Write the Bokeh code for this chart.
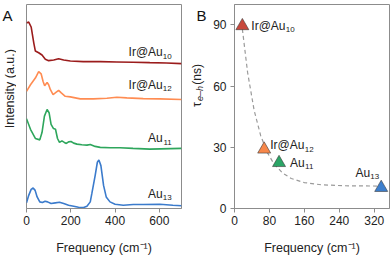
import math
from bokeh.plotting import figure
from bokeh.layouts import row
from bokeh.models import Label, FixedTicker, Range1d
from bokeh.core.properties import value
from bokeh.embed import file_html
from bokeh.resources import INLINE

FONT = "Liberation Sans"
GREY = "#8c8c8c"
TXT = "#222222"

# ---------------- Panel A: spectra ----------------
freq_irau10 = [0, 10, 21, 33, 40, 55, 70, 85, 100, 123, 145, 168, 198, 256, 333, 408, 481, 557, 632, 700]
int_irau10 = [41.3, 42.3, 37.3, 21, 13, 11.3, 9, 4.7, 3.3, 4, 5.3, 4, 3, 2.3, 2.3, 2, 1.7, 1.3, 1, 0.3]

freq_irau12 = [0, 18, 40, 55, 66, 75, 82, 93, 100, 108, 120, 130, 145, 157, 175, 198, 243, 302, 363, 408, 453, 527, 602, 700]
int_irau12 = [8.3, 15, 21.7, 28.3, 26, 18.3, 14, 17.3, 15, 10, 5, 6.7, 9.3, 6.7, 3.3, 2.7, 0.7, 0.7, 1.3, 2.3, 1.7, 1, 0.7, 0]

freq_au11 = [0, 18, 40, 60, 70, 81, 93, 102, 111, 122, 131, 140, 149, 160, 171, 180, 190, 201, 213, 228, 250, 273, 288, 310, 333, 378, 422, 481, 557, 700]
int_au11 = [30.7, 20, 10.7, 9.3, 16.7, 33.3, 40, 36.7, 25, 20.7, 20, 10.7, 6.7, 8.3, 6.7, 5.7, 7.3, 7.7, 6, 5, 4.3, 4, 4.7, 2.7, 1.7, 1.3, 1.3, 0.7, 0, 0.7]

freq_au13 = [0, 10, 21, 30, 39, 48, 60, 72, 84, 95, 111, 130, 149, 168, 190, 213, 235, 258, 273, 288, 295, 310, 320, 327, 336, 348, 360, 377, 400, 437, 482, 527, 602, 661, 700]
int_au13 = [4.7, 12.3, 18.3, 19.7, 17.3, 10.7, 5.7, 5, 6.3, 5.7, 4, 4.7, 5.3, 4, 2.3, 1.3, 0.3, 0, 1.3, 5.7, 14, 32.3, 45.7, 48, 42.3, 22.3, 10.7, 5.7, 3.3, 2.3, 3, 3, 3.3, 2.3, 1.7]

spec_names = ["Ir@Au", "Ir@Au", "Au", "Au"]
spec_subs = ["10", "12", "11", "13"]
spec_offsets = [145, 109, 59, 0]
spec_colors = ["#9b1c1c", "#ff8c52", "#2ea65c", "#3b7bcc"]
spec_label_y = [157, 124, 70, 14]
spec_label_x = 656
a_xticks = [0, 200, 400, 600]

# ---------------- Panel B: tau vs frequency ----------------
b_names = ["Ir@Au", "Ir@Au", "Au", "Au"]
b_subs = ["10", "12", "11", "13"]
b_freq = [18, 68, 102, 336]
b_tau = [89.5, 29, 22.4, 10.2]
b_colors = ["#c8483c", "#f7874a", "#2ba566", "#3d7fcd"]
fit_freq = [18, 30, 45, 60, 75, 90, 110, 130, 160, 200, 250, 300, 330]
fit_tau = [88, 66.7, 48.1, 35.7, 27.5, 22.0, 17.4, 14.7, 12.7, 11.6, 11.15, 11.05, 11.0]
b_xticks = [0, 80, 160, 240, 320]
b_yticks = [0, 30, 60, 90]

H = 257


def style_axes(p):
    p.outline_line_color = GREY
    p.outline_line_width = 1
    p.xgrid.visible = False
    p.ygrid.visible = False
    for ax in (p.xaxis, p.yaxis):
        ax.axis_line_color = GREY
        ax.major_tick_line_color = GREY
        ax.minor_tick_line_color = None
        ax.major_tick_in = 0
        ax.major_tick_out = 4
        ax.major_label_text_font = FONT
        ax.major_label_text_font_size = "12px"
        ax.major_label_text_color = TXT
        ax.axis_label_text_font = FONT
        ax.axis_label_text_font_size = "12.5px"
        ax.axis_label_text_font_style = "normal"
        ax.axis_label_text_color = TXT
        ax.major_label_standoff = 3


def strip(width):
    s = figure(width=width, height=H, x_range=Range1d(0, width), y_range=Range1d(H, 0),
               output_backend="svg", toolbar_location=None, x_axis_type=None, y_axis_type=None,
               min_border_left=0, min_border_right=0, min_border_top=0, min_border_bottom=0)
    s.outline_line_color = None
    s.xgrid.visible = False
    s.ygrid.visible = False
    return s


# Left strip: panel letter A and the intensity label
sA = strip(16)
sA.text(x=[2], y=[3], text=["A"], text_align="left", text_baseline="top",
        text_font=value(FONT), text_font_size="15px", text_color="#111111")
sA.text(x=[9], y=[106], text=["Intensity (a.u.)"], angle=math.pi / 2, text_align="center",
        text_baseline="middle", text_font=value(FONT), text_font_size="12.5px", text_color=TXT)

# Panel A
pA = figure(width=174, height=H, x_range=Range1d(0, 700), y_range=Range1d(-1, 205),
            output_backend="svg", toolbar_location=None,
            min_border_left=10, min_border_right=9, min_border_top=4, min_border_bottom=48)
style_axes(pA)
pA.yaxis.visible = False
pA.xaxis.ticker = FixedTicker(ticks=a_xticks)
pA.xaxis.axis_label = "Frequency (cm\u207b\u00b9)"
pA.xaxis.axis_label_standoff = 13

series = [(freq_irau10, int_irau10), (freq_irau12, int_irau12), (freq_au11, int_au11), (freq_au13, int_au13)]
for (fx, iy), off, col in zip(series, spec_offsets, spec_colors):
    pA.line(fx, [v + off for v in iy], line_color=col, line_width=1.6)

for name, sub, ly in zip(spec_names, spec_subs, spec_label_y):
    pA.add_layout(Label(x=spec_label_x, y=ly, text=name, text_align="right", text_baseline="middle",
                        x_offset=-9, text_font=FONT, text_font_size="12px", text_color=TXT))
    pA.add_layout(Label(x=spec_label_x, y=ly, text=sub, text_align="right", text_baseline="middle",
                        y_offset=-4, text_font=FONT, text_font_size="8px", text_color=TXT))

# Middle strip: panel letter B and the tau label (with italic subscript)
sB = strip(20)
sB.text(x=[6], y=[3], text=["B"], text_align="left", text_baseline="top",
        text_font=value(FONT), text_font_size="15px", text_color="#111111")
sB.text(x=[6], y=[129], text=["\u03c4"], angle=math.pi / 2, text_align="left", text_baseline="middle",
        text_font=value(FONT), text_font_size="12.5px", text_color=TXT)
sB.text(x=[9.5], y=[121.5], text=["e\u2013h"], angle=math.pi / 2, text_align="left", text_baseline="middle",
        text_font=value(FONT), text_font_size="9px", text_font_style="italic", text_color=TXT)
sB.text(x=[6], y=[101], text=["(ns)"], angle=math.pi / 2, text_align="left", text_baseline="middle",
        text_font=value(FONT), text_font_size="12px", text_color=TXT)

# Panel B
pB = figure(width=182, height=H, x_range=Range1d(0, 355), y_range=Range1d(0, 100),
            output_backend="svg", toolbar_location=None,
            min_border_left=23, min_border_right=3, min_border_top=4, min_border_bottom=48)
style_axes(pB)
pB.xaxis.ticker = FixedTicker(ticks=b_xticks)
pB.yaxis.ticker = FixedTicker(ticks=b_yticks)
pB.yaxis.major_label_standoff = 4
pB.xaxis.axis_label = "Frequency (cm\u207b\u00b9)"
pB.xaxis.axis_label_standoff = 13

pB.line(fit_freq, fit_tau, line_color="#9a9a9a", line_width=1.2, line_dash="4 3")
pB.scatter(b_freq, b_tau, marker="triangle", size=13, fill_color=b_colors,
           line_color="#3a3a3a", line_width=0.6)

# point labels (offsets in px)
b_lab_dx = [9, 6, 11, -11]
b_lab_dy = [0, 4, 0, 15]
b_lab_align = ["left", "left", "left", "right"]
for name, sub, x, y, dx, dy, al in zip(b_names, b_subs, b_freq, b_tau, b_lab_dx, b_lab_dy, b_lab_align):
    pB.add_layout(Label(x=x, y=y, text=name, text_align=al, text_baseline="middle",
                        x_offset=dx, y_offset=dy, text_font=FONT, text_font_size="12px", text_color=TXT))
    sdx = dx + 34.5 if name == "Ir@Au" and al == "left" else (dx + 15 if al == "left" else dx + 9)
    pB.add_layout(Label(x=x, y=y, text=sub, text_align=al, text_baseline="middle",
                        x_offset=sdx, y_offset=dy - 4, text_font=FONT, text_font_size="8px", text_color=TXT))

layout = row(sA, pA, sB, pB)
open("out.html", "w").write(file_html(layout, INLINE))
